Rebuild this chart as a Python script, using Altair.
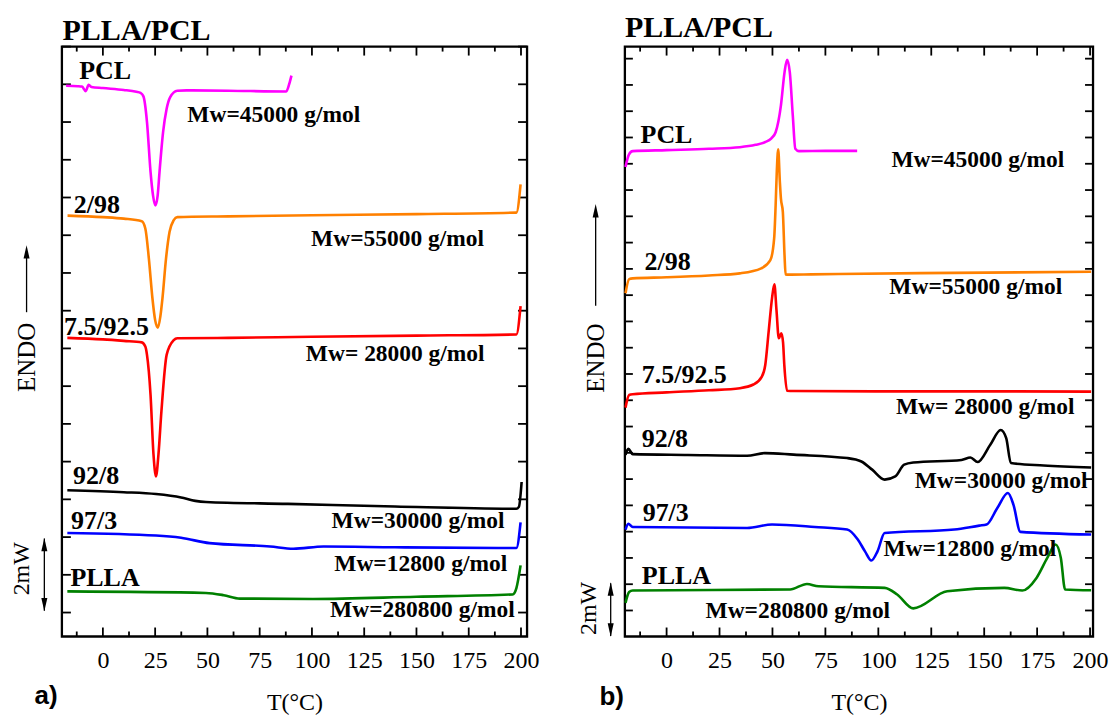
import altair as alt
import pandas as pd

# ---------------- panel a (cooling) ----------------
a_pcl_T = [-17.6, -12.0, -10.0, -8.2, -6.8, -5.5, 0.0, 10.0, 16.0, 18.0, 19.4, 21.1, 22.8, 24.0, 25.1, 26.2, 27.1, 28.8, 30.5, 32.2, 35.6, 40.0, 60.0, 87.7, 89.4, 90.2]
a_pcl_v = [13.96, 13.95, 13.94, 13.82, 13.99, 13.93, 13.90, 13.85, 13.80, 13.77, 13.68, 13.00, 11.68, 11.05, 10.79, 11.05, 11.68, 12.73, 13.35, 13.66, 13.83, 13.84, 13.83, 13.81, 14.06, 14.23]
a_o_T = [-16.9, 0, 10, 18.6, 20.3, 22.0, 23.7, 25.0, 26.3, 27.5, 28.5, 30.2, 31.9, 33.9, 35.6, 60, 100, 150, 197.8, 199.8]
a_o_v = [10.52, 10.48, 10.44, 10.37, 10.18, 9.38, 8.33, 7.75, 7.55, 7.85, 8.33, 9.38, 10.09, 10.40, 10.48, 10.50, 10.53, 10.56, 10.60, 11.35]
a_r_T = [-17.0, 0, 10, 18.6, 20.3, 21.1, 22.8, 24.2, 25.4, 26.6, 28.0, 30.5, 33.9, 35.6, 60, 100, 150, 197.8, 199.8]
a_r_v = [7.28, 7.24, 7.20, 7.16, 7.05, 6.83, 5.77, 4.20, 3.61, 4.20, 5.33, 6.83, 7.22, 7.27, 7.28, 7.31, 7.34, 7.37, 8.12]
a_k_T = [-17.0, 10, 25.4, 37.4, 44.2, 49.3, 88.5, 139.7, 197.8, 199.0, 200.3]
a_k_v = [3.24, 3.19, 3.14, 3.05, 2.96, 2.93, 2.88, 2.81, 2.75, 2.80, 3.46]
a_b_T = [-17.0, 25.4, 37.4, 51.0, 80.0, 91.1, 105.6, 139.7, 197.8, 199.8]
a_b_v = [2.11, 2.04, 1.98, 1.84, 1.75, 1.69, 1.75, 1.73, 1.71, 2.39]
a_g_T = [-17.0, 49.3, 57.8, 65.5, 100.5, 150, 196.0, 197.8, 199.8]
a_g_v = [0.56, 0.52, 0.46, 0.37, 0.36, 0.42, 0.48, 0.65, 1.25]

# ---------------- panel b (heating) ----------------
b_pcl_T = [-19.4, -17.8, -16.0, 0, 20, 34.6, 42, 46.4, 49.5, 51.5, 54.0, 55.7, 56.9, 58.2, 59.6, 60.8, 62.5, 75, 90.0]
b_pcl_v = [16.88, 17.35, 17.48, 17.52, 17.57, 17.63, 17.72, 17.82, 17.97, 18.20, 19.22, 20.48, 20.96, 20.48, 18.84, 17.57, 17.48, 17.49, 17.49]
b_o_T = [-19.4, -17.7, -16.0, 0, 20, 34.6, 44.7, 49.0, 50.8, 51.5, 52.0, 52.7, 53.5, 54.0, 54.9, 55.7, 56.2, 57.5, 68.4, 120, 200.5]
b_o_v = [12.07, 12.61, 12.64, 12.68, 12.75, 12.83, 13.02, 13.33, 14.16, 15.42, 16.60, 17.55, 16.30, 15.67, 15.17, 13.52, 12.79, 12.78, 12.79, 12.84, 12.89]
b_r_T = [-19.4, -17.7, -16.0, 0, 20, 34.6, 41, 45.0, 46.6, 48.2, 49.8, 50.9, 51.9, 53.0, 54.2, 55.0, 55.6, 56.9, 60, 100, 150, 200.5]
b_r_v = [7.72, 8.20, 8.23, 8.30, 8.38, 8.46, 8.60, 8.90, 9.34, 10.61, 11.89, 12.41, 11.43, 10.36, 10.55, 10.20, 9.34, 8.36, 8.35, 8.34, 8.34, 8.33]
b_k_T = [-19.4, -18.1, -16.0, 10, 38.0, 46.4, 60, 85.3, 92.0, 97.1, 103.0, 108.0, 112.2, 116.5, 139.3, 143.5, 146.9, 152.8, 157.8, 160.4, 162.6, 178.1, 200.5]
b_k_v = [5.92, 6.15, 5.95, 5.92, 5.89, 5.99, 5.93, 5.80, 5.67, 5.36, 4.98, 5.10, 5.55, 5.63, 5.73, 5.82, 5.65, 6.30, 6.87, 6.56, 5.61, 5.52, 5.44]
b_b_T = [-19.4, -18.1, -16.0, 38.0, 49.8, 70, 85.3, 90.3, 93.7, 96.7, 99.6, 103.0, 135.9, 147.7, 151.1, 156.2, 161.2, 163.8, 167.1, 200.5]
b_b_v = [3.08, 3.30, 3.18, 3.14, 3.27, 3.18, 3.08, 2.70, 2.25, 1.90, 2.25, 2.95, 3.08, 3.23, 3.27, 3.90, 4.47, 4.03, 2.99, 2.89]
b_g_T = [-19.4, -17.7, -16.0, 58.3, 66.3, 71.7, 103.0, 108.9, 116.5, 132.5, 159.5, 168.0, 174.7, 179.8, 183.7, 186.2, 188.2, 200.5]
b_g_v = [0.29, 0.70, 0.76, 0.80, 1.01, 0.92, 0.86, 0.61, 0.08, 0.73, 0.86, 0.76, 1.24, 2.00, 2.51, 2.00, 0.80, 0.77]

series_names = ["PCL", "2/98", "7.5/92.5", "92/8", "97/3", "PLLA"]
series_colors = ["#ff00ff", "#ff8000", "#ff0000", "#000000", "#0000ff", "#008000"]

# curve labels: text, T, v
a_lab_text = ["PCL", "2/98", "7.5/92.5", "92/8", "97/3", "PLLA"]
a_lab_T = [-11.3, -13.9, -18.6, -14.3, -15.2, -15.5]
a_lab_v = [14.13, 10.58, 7.35, 3.41, 2.22, 0.71]
a_mw_text = ["Mw=45000 g/mol", "Mw=55000 g/mol", "Mw= 28000 g/mol", "Mw=30000 g/mol", "Mw=12800 g/mol", "Mw=280800 g/mol"]
a_mw_T = [40.4, 99.6, 97.1, 109.4, 110.7, 108.7]
a_mw_v = [12.99, 9.71, 6.67, 2.25, 1.11, -0.13]

b_lab_text = ["PCL", "2/98", "7.5/92.5", "92/8", "97/3", "PLLA"]
b_lab_T = [-12.3, -10.4, -11.7, -11.7, -11.3, -11.7]
b_lab_v = [17.79, 12.95, 8.65, 6.24, 3.39, 1.01]
b_mw_text = ["Mw=45000 g/mol", "Mw=55000 g/mol", "Mw= 28000 g/mol", "Mw=30000 g/mol", "Mw=12800 g/mol", "Mw=280800 g/mol"]
b_mw_T = [106.2, 105.2, 108.3, 117.2, 102.4, 18.4]
b_mw_v = [16.87, 12.06, 7.47, 4.68, 2.06, -0.28]

x_major = [0, 25, 50, 75, 100, 125, 150, 175, 200]
x_minor = [-12.5, 12.5, 37.5, 62.5, 87.5, 112.5, 137.5, 162.5, 187.5]

SERIF = "Liberation Serif"
SANS = "Liberation Sans"


def curves_df(Ts, vs):
    rows = []
    for n, T, v in zip(series_names, Ts, vs):
        for t, y in zip(T, v):
            rows.append({"s": n, "T": t, "v": y})
    return pd.DataFrame(rows)


def make_panel(cfg):
    W, H = cfg["W"], cfg["H"]
    xs = alt.Scale(domain=cfg["xdom"], nice=False, zero=False)
    ys = alt.Scale(domain=cfg["ydom"], nice=False, zero=False)
    xaxis = alt.Axis(values=x_major, ticks=False, domain=False, grid=False,
                     labelFont=SERIF, labelFontSize=24, labelColor="black",
                     labelPadding=12, labelFlush=False,
                     title="T(°C)", titleFont=SERIF, titleFontSize=24,
                     titleFontWeight="normal", titleColor="black", titlePadding=18)
    X = alt.X("T:Q", scale=xs, axis=xaxis)
    Y = alt.Y("v:Q", scale=ys, axis=None)

    lines = alt.Chart(curves_df(cfg["Ts"], cfg["vs"])).mark_line(
        strokeWidth=2.6, interpolate="monotone").encode(
        x=X, y=Y,
        color=alt.Color("s:N", scale=alt.Scale(domain=series_names, range=series_colors), legend=None),
        detail="s:N")

    xmaj = pd.DataFrame({"T": x_major})
    xmin = pd.DataFrame({"T": x_minor})
    yt = pd.DataFrame({"v": cfg["yticks"]})
    tl = cfg["tick"]
    rule = dict(color="black", strokeWidth=1.8)
    ticks = [
        alt.Chart(xmaj).mark_rule(**rule).encode(x=X, y=alt.value(H), y2=alt.value(H - tl)),
        alt.Chart(xmaj).mark_rule(**rule).encode(x=X, y=alt.value(0), y2=alt.value(tl)),
        alt.Chart(xmin).mark_rule(**rule).encode(x=X, y=alt.value(H), y2=alt.value(H - 5)),
        alt.Chart(xmin).mark_rule(**rule).encode(x=X, y=alt.value(0), y2=alt.value(5)),
        alt.Chart(yt).mark_rule(**rule).encode(y=Y, x=alt.value(0), x2=alt.value(cfg["ytick"])),
        alt.Chart(yt).mark_rule(**rule).encode(y=Y, x=alt.value(W), x2=alt.value(W - cfg["ytick"])),
    ]

    labs = alt.Chart(pd.DataFrame({"T": cfg["lab_T"], "v": cfg["lab_v"], "t": cfg["lab_text"]})).mark_text(
        font=SERIF, fontWeight="bold", fontSize=26, align="left", baseline="alphabetic", color="black"
    ).encode(x=X, y=Y, text="t:N")
    mws = alt.Chart(pd.DataFrame({"T": cfg["mw_T"], "v": cfg["mw_v"], "t": cfg["mw_text"]})).mark_text(
        font=SERIF, fontWeight="bold", fontSize=23.5, align="left", baseline="alphabetic", color="black"
    ).encode(x=X, y=Y, text="t:N")
    title = alt.Chart(pd.DataFrame({"T": [cfg["title_pos"][0]], "v": [cfg["title_pos"][1]], "t": ["PLLA/PCL"]})).mark_text(
        font=SERIF, fontWeight="bold", fontSize=30, align="left", baseline="alphabetic", color="black"
    ).encode(x=X, y=Y, text="t:N")
    tag = alt.Chart(pd.DataFrame({"T": [cfg["tag_pos"][0]], "v": [cfg["tag_pos"][1]], "t": [cfg["tag"]]})).mark_text(
        font=SANS, fontWeight="bold", fontSize=26, align="center", baseline="middle", color="black"
    ).encode(x=X, y=Y, text="t:N")
    endo = alt.Chart(pd.DataFrame({"T": [cfg["endo_T"]], "v": [cfg["endo_v"]], "t": ["ENDO"]})).mark_text(
        font=SERIF, fontSize=25, angle=270, align="center", baseline="middle", color="black"
    ).encode(x=X, y=Y, text="t:N")
    mw2 = alt.Chart(pd.DataFrame({"T": [cfg["mw2_T"]], "v": [cfg["mw2_v"]], "t": ["2mW"]})).mark_text(
        font=SERIF, fontSize=24, angle=270, align="center", baseline="middle", color="black"
    ).encode(x=X, y=Y, text="t:N")

    # arrows
    arrow_lines = alt.Chart(pd.DataFrame({
        "T": [cfg["endo_T"], cfg["dbl_T"]],
        "v": [cfg["endo_line"][0], cfg["dbl_line"][0]],
        "v2": [cfg["endo_line"][1], cfg["dbl_line"][1]]})).mark_rule(color="black", strokeWidth=1.3).encode(
        x=X, y=Y, y2="v2:Q")
    up_heads = alt.Chart(pd.DataFrame({"T": [cfg["endo_T"], cfg["dbl_T"]],
                                       "v": [cfg["endo_head"], cfg["dbl_heads"][0]]})).mark_point(
        shape="M0,-1L0.45,1L-0.45,1Z", filled=True, size=180, color="black", opacity=1, strokeWidth=0
    ).encode(x=X, y=Y)
    down_heads = alt.Chart(pd.DataFrame({"T": [cfg["dbl_T"]], "v": [cfg["dbl_heads"][1]]})).mark_point(
        shape="M0,1L0.45,-1L-0.45,-1Z", filled=True, size=180, color="black", opacity=1, strokeWidth=0
    ).encode(x=X, y=Y)

    return alt.layer(*ticks, lines, labs, mws, title, tag, endo, mw2, arrow_lines, up_heads, down_heads).properties(
        width=W, height=H)


cfg_a = dict(W=466, H=591, xdom=[-19.6, 202.9], ydom=[-0.635, 15.0], yticks=list(range(0, 16)),
             tick=9, ytick=9,
             Ts=[a_pcl_T, a_o_T, a_r_T, a_k_T, a_b_T, a_g_T],
             vs=[a_pcl_v, a_o_v, a_r_v, a_k_v, a_b_v, a_g_v],
             lab_T=a_lab_T, lab_v=a_lab_v, lab_text=a_lab_text,
             mw_T=a_mw_T, mw_v=a_mw_v, mw_text=a_mw_text,
             title_pos=(-19.3, 15.18), tag="a)", tag_pos=(-27.2, -2.21),
             endo_T=-36.5, endo_v=6.76, endo_line=(7.96, 9.47), endo_head=9.56,
             mw2_T=-38.9, mw2_v=1.16,
             dbl_T=-28.0, dbl_line=(0.05, 1.96), dbl_heads=(1.80, 0.21))

cfg_b = dict(W=469, H=591, xdom=[-19.7, 201.4], ydom=[-0.99, 21.46], yticks=list(range(0, 22)),
             tick=9, ytick=8,
             Ts=[b_pcl_T, b_o_T, b_r_T, b_k_T, b_b_T, b_g_T],
             vs=[b_pcl_v, b_o_v, b_r_v, b_k_v, b_b_v, b_g_v],
             lab_T=b_lab_T, lab_v=b_lab_v, lab_text=b_lab_text,
             mw_T=b_mw_T, mw_v=b_mw_v, mw_text=b_mw_text,
             title_pos=(-19.7, 21.81), tag="b)", tag_pos=(-25.9, -3.30),
             endo_T=-33.5, endo_v=9.6, endo_line=(11.6, 15.04), endo_head=15.21,
             mw2_T=-36.5, mw2_v=0.08,
             dbl_T=-26.4, dbl_line=(-0.97, 1.04), dbl_heads=(0.82, -0.74))

chart = alt.HConcatChart(hconcat=[make_panel(cfg_a), make_panel(cfg_b)], spacing=98, bounds="flush").properties(
    padding={"left": 0, "top": 3, "right": 0, "bottom": 0},
    background="white"
).configure_view(stroke="black", strokeWidth=2.3)

chart.save("out.html", embed_options={"renderer": "svg", "actions": False})
